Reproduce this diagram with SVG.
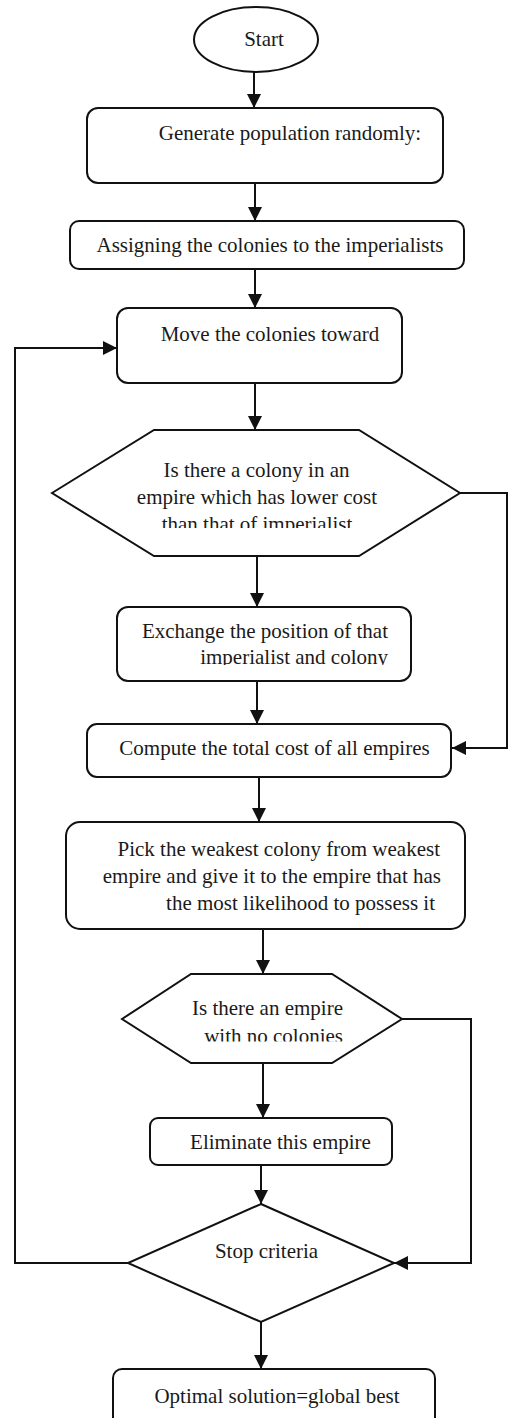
<svg xmlns="http://www.w3.org/2000/svg" width="508" height="1418" viewBox="0 0 508 1418">
<style>
.s{fill:#fff;stroke:#111;stroke-width:2}
.c{fill:none;stroke:#111;stroke-width:2}
text{font-family:"Liberation Serif","Times New Roman","DejaVu Serif",serif;font-size:21px;fill:#1a1a1a}
.m{text-anchor:middle}
.e{text-anchor:end}
</style>
<defs>
<marker id="ah" viewBox="0 0 14 14" refX="14" refY="7" markerWidth="14" markerHeight="14" markerUnits="userSpaceOnUse" orient="auto">
<path d="M0,0 L14,7 L0,14 Z" fill="#111"/>
</marker>
<clipPath id="cp1"><rect x="0" y="0" width="508" height="528"/></clipPath>
<clipPath id="cp2"><rect x="0" y="0" width="508" height="665"/></clipPath>
<clipPath id="cp3"><rect x="0" y="0" width="508" height="1041.5"/></clipPath>
</defs>
<rect width="508" height="1418" fill="#fff"/>
<g id="connectors">
<line class="c" x1="254" y1="72" x2="254" y2="108" marker-end="url(#ah)"/>
<line class="c" x1="255" y1="183" x2="255" y2="221" marker-end="url(#ah)"/>
<line class="c" x1="255" y1="269" x2="255" y2="308" marker-end="url(#ah)"/>
<line class="c" x1="255" y1="383" x2="255" y2="430" marker-end="url(#ah)"/>
<polyline class="c" points="460,493 507,493 507,748 452,748" marker-end="url(#ah)"/>
<line class="c" x1="257" y1="556" x2="257" y2="607" marker-end="url(#ah)"/>
<line class="c" x1="257" y1="681" x2="257" y2="724" marker-end="url(#ah)"/>
<line class="c" x1="259" y1="777" x2="259" y2="822" marker-end="url(#ah)"/>
<line class="c" x1="263" y1="929" x2="263" y2="974" marker-end="url(#ah)"/>
<polyline class="c" points="402,1019 471,1019 471,1263 394,1263" marker-end="url(#ah)"/>
<line class="c" x1="263" y1="1063" x2="263" y2="1118" marker-end="url(#ah)"/>
<line class="c" x1="261" y1="1165" x2="261" y2="1204" marker-end="url(#ah)"/>
<polyline class="c" points="128,1263 15,1263 15,348 117,348" marker-end="url(#ah)"/>
<line class="c" x1="261" y1="1322" x2="261" y2="1369" marker-end="url(#ah)"/>
</g>
<g id="start">
<ellipse class="s" cx="256" cy="39.5" rx="62" ry="32.5"/>
<text class="m" x="264" y="46">Start</text>
</g>
<g id="generate">
<rect class="s" x="87" y="108" width="356" height="75" rx="11"/>
<text class="m" x="290" y="140">Generate population randomly:</text>
</g>
<g id="assign">
<rect class="s" x="70" y="221" width="394" height="48" rx="9"/>
<text class="m" x="270" y="252">Assigning the colonies to the imperialists</text>
</g>
<g id="move">
<rect class="s" x="117" y="308" width="285" height="75" rx="11"/>
<text class="m" x="270" y="341">Move the colonies toward</text>
</g>
<g id="decision1">
<polygon class="s" points="52,493 154,430 359,430 460,493 359,556 154,556"/>
<text class="m" x="256.5" y="477">Is there a colony in an</text>
<text class="m" x="257" y="504">empire which has lower cost</text>
<text class="m" x="257" y="531" clip-path="url(#cp1)">than that of imperialist</text>
</g>
<g id="exchange">
<rect class="s" x="117" y="607" width="294" height="74" rx="11"/>
<text class="e" x="388" y="638">Exchange the position of that</text>
<text class="e" x="388" y="664" clip-path="url(#cp2)">imperialist and colony</text>
</g>
<g id="compute">
<rect class="s" x="87" y="724" width="364" height="53" rx="10"/>
<text class="m" x="274.5" y="755">Compute the total cost of all empires</text>
</g>
<g id="pick">
<rect class="s" x="66" y="822" width="399" height="107" rx="14"/>
<text class="e" x="440" y="856">Pick the weakest colony from weakest</text>
<text class="e" x="441" y="883">empire and give it to the empire that has</text>
<text class="e" x="435" y="910">the most likelihood to possess it</text>
</g>
<g id="decision2">
<polygon class="s" points="122,1019 191,974 332,974 402,1019 332,1063 191,1063"/>
<text class="e" x="343" y="1015">Is there an empire</text>
<text class="e" x="343" y="1043" clip-path="url(#cp3)">with no colonies</text>
</g>
<g id="eliminate">
<rect class="s" x="150" y="1118" width="242" height="47" rx="8"/>
<text class="m" x="280.5" y="1149">Eliminate this empire</text>
</g>
<g id="stop">
<polygon class="s" points="261,1204 394,1263 261,1322 128,1263"/>
<text class="m" x="266.5" y="1258">Stop criteria</text>
</g>
<g id="optimal">
<rect class="s" x="113" y="1369" width="322" height="60" rx="9"/>
<text class="m" x="277" y="1403">Optimal solution=global best</text>
</g>
</svg>
